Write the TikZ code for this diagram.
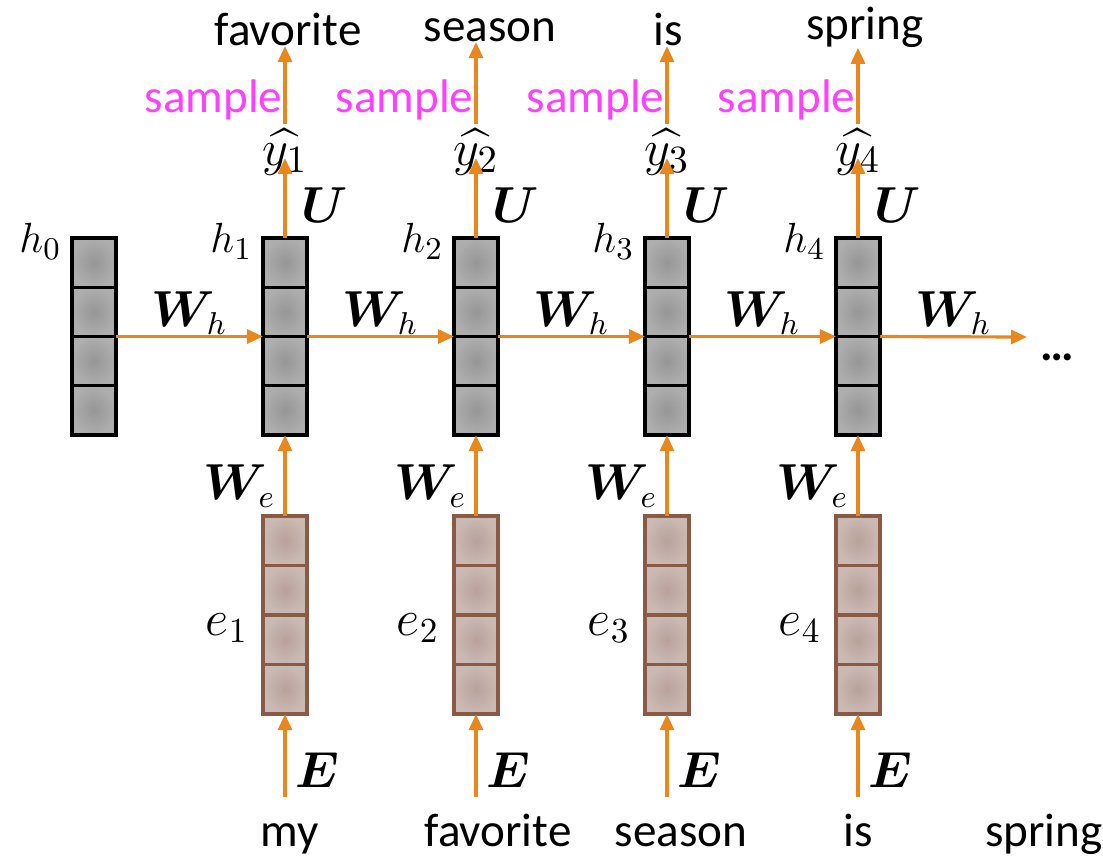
\documentclass[tikz,border=0pt]{standalone}
\usepackage{amsmath,bm}
\usepackage[no-math]{fontspec}
\setmainfont{Carlito}
\usetikzlibrary{arrows.meta,calc}

\definecolor{arrorange}{RGB}{232,135,30}
\definecolor{samplemag}{RGB}{255,64,255}
\definecolor{ebrown}{RGB}{139,90,68}
\definecolor{ein}{RGB}{184,161,155}
\definecolor{eout}{RGB}{203,186,180}
\definecolor{hin}{RGB}{150,150,150}
\definecolor{hout}{RGB}{174,174,174}

\begin{document}
\begin{tikzpicture}[x=0.01cm,y=-0.01cm,
  arr/.style={draw=arrorange, line width=0.9pt, -{Triangle[length=0.16cm,width=0.14cm]}},
  hcol/.style={minimum width=0.44cm, minimum height=1.97cm, inner sep=0pt, outer sep=0pt},
  ecol/.style={minimum width=0.44cm, minimum height=1.98cm, inner sep=0pt, outer sep=0pt},
  hcell/.style={draw=black, line width=0.9pt, minimum width=0.44cm, minimum height=0.4925cm,
    inner sep=0pt, shading=radial, inner color=hin, outer color=hout},
  ecell/.style={draw=ebrown, line width=0.9pt, minimum width=0.44cm, minimum height=0.495cm,
    inner sep=0pt, shading=radial, inner color=ein, outer color=eout},
  word/.style={font=\fontsize{13.4}{16}\selectfont, inner sep=0pt},
  slab/.style={word, text=samplemag},
  mlab/.style={font=\fontsize{13}{15}\selectfont, inner sep=0pt},
  ylab/.style={font=\fontsize{15}{17}\selectfont, inner sep=0pt},
  elab/.style={font=\fontsize{14.5}{17}\selectfont, inner sep=0pt},
  blab/.style={font=\fontsize{13.5}{16}\selectfont, inner sep=0pt},
]
\useasboundingbox (0,0) rectangle (1103,856);

% hidden-state columns h_0 ... h_4
\foreach \i/\x in {0/94,1/285,2/476,3/667,4/858} {
  \node[hcol] (h\i) at (\x,336.5) {};
  \foreach \k in {0,1,2,3}
    \node[hcell] at (\x,262.6+49.25*\k) {};
  \node[mlab, anchor=base east] (lh\i) at ($(h\i.north west)+(-10,15)$) {$h_{\i}$};
}

% embedding columns e_1 ... e_4
\foreach \i/\x in {1/285,2/476,3/667,4/858} {
  \node[ecol] (e\i) at (\x,615) {};
  \foreach \k in {0,1,2,3}
    \node[ecell] at (\x,540.75+49.5*\k) {};
  \node[elab, anchor=base east] (le\i) at ($(e\i.west)+(-14,20)$) {$e_{\i}$};
}

% recurrent connections
\foreach \i/\j in {0/1,1/2,2/3,3/4}
  \draw[arr] (h\i.east) -- (h\j.west)
    node[blab, midway, anchor=base, yshift=0.1cm] {$\bm{W}_h$};
\coordinate (hend) at (1027,337);
\draw[arr] (h4.east) -- (hend)
  node[blab, midway, anchor=base, yshift=0.1cm] {$\bm{W}_h$};
\node[word, anchor=base] (dots) at (1057,360) {\textbf{…}};

% embeddings into hidden states
\foreach \i in {1,2,3,4}
  \draw[arr] (e\i.north) -- (h\i.south)
    node[blab, pos=0.2, anchor=base east, xshift=-0.08cm] {$\bm{W}_e$};

% input words
\foreach \i/\x in {1/285,2/476,3/667,4/858} {
  \coordinate (b\i) at (\x,797);
  \draw[arr] (b\i) -- (e\i.south)
    node[blab, pos=0.12, anchor=base west, xshift=0.09cm] {$\bm{E}$};
}
\node[word, anchor=base] (w1) at (290,846) {my};
\node[word, anchor=base] (w2) at (498,846) {favorite};
\node[word, anchor=base] (w3) at (681,846) {season};
\node[word, anchor=base] (w4) at (858,846) {is};
\node[word, anchor=base] (w5) at (1044,846) {spring};

% outputs and sampled words
\node[word, anchor=base] (t1) at (288,45) {favorite};
\node[word, anchor=base] (t2) at (490,41) {season};
\node[word, anchor=base] (t3) at (668,45) {is};
\node[word, anchor=base] (t4) at (865,39) {spring};

\foreach \i/\x in {1/285,2/476,3/667,4/858} {
  \node[ylab, anchor=base] (y\i) at (\x,165) {$\widehat{y_{\i}}$};
  \draw[arr] (h\i.north) -- ($(y\i.base)+(0,-7)$)
    node[blab, pos=0.19, anchor=base west, xshift=0.15cm] {$\bm{U}$};
  \coordinate (s\i) at ($(y\i.base)+(0,-41)$);
  \draw[arr] (s\i) -- (s\i |- t\i.south);
  \node[slab, anchor=base east] (sm\i) at ($(y\i.base)+(-2,-53)$) {sample};
}
\end{tikzpicture}
\end{document}
